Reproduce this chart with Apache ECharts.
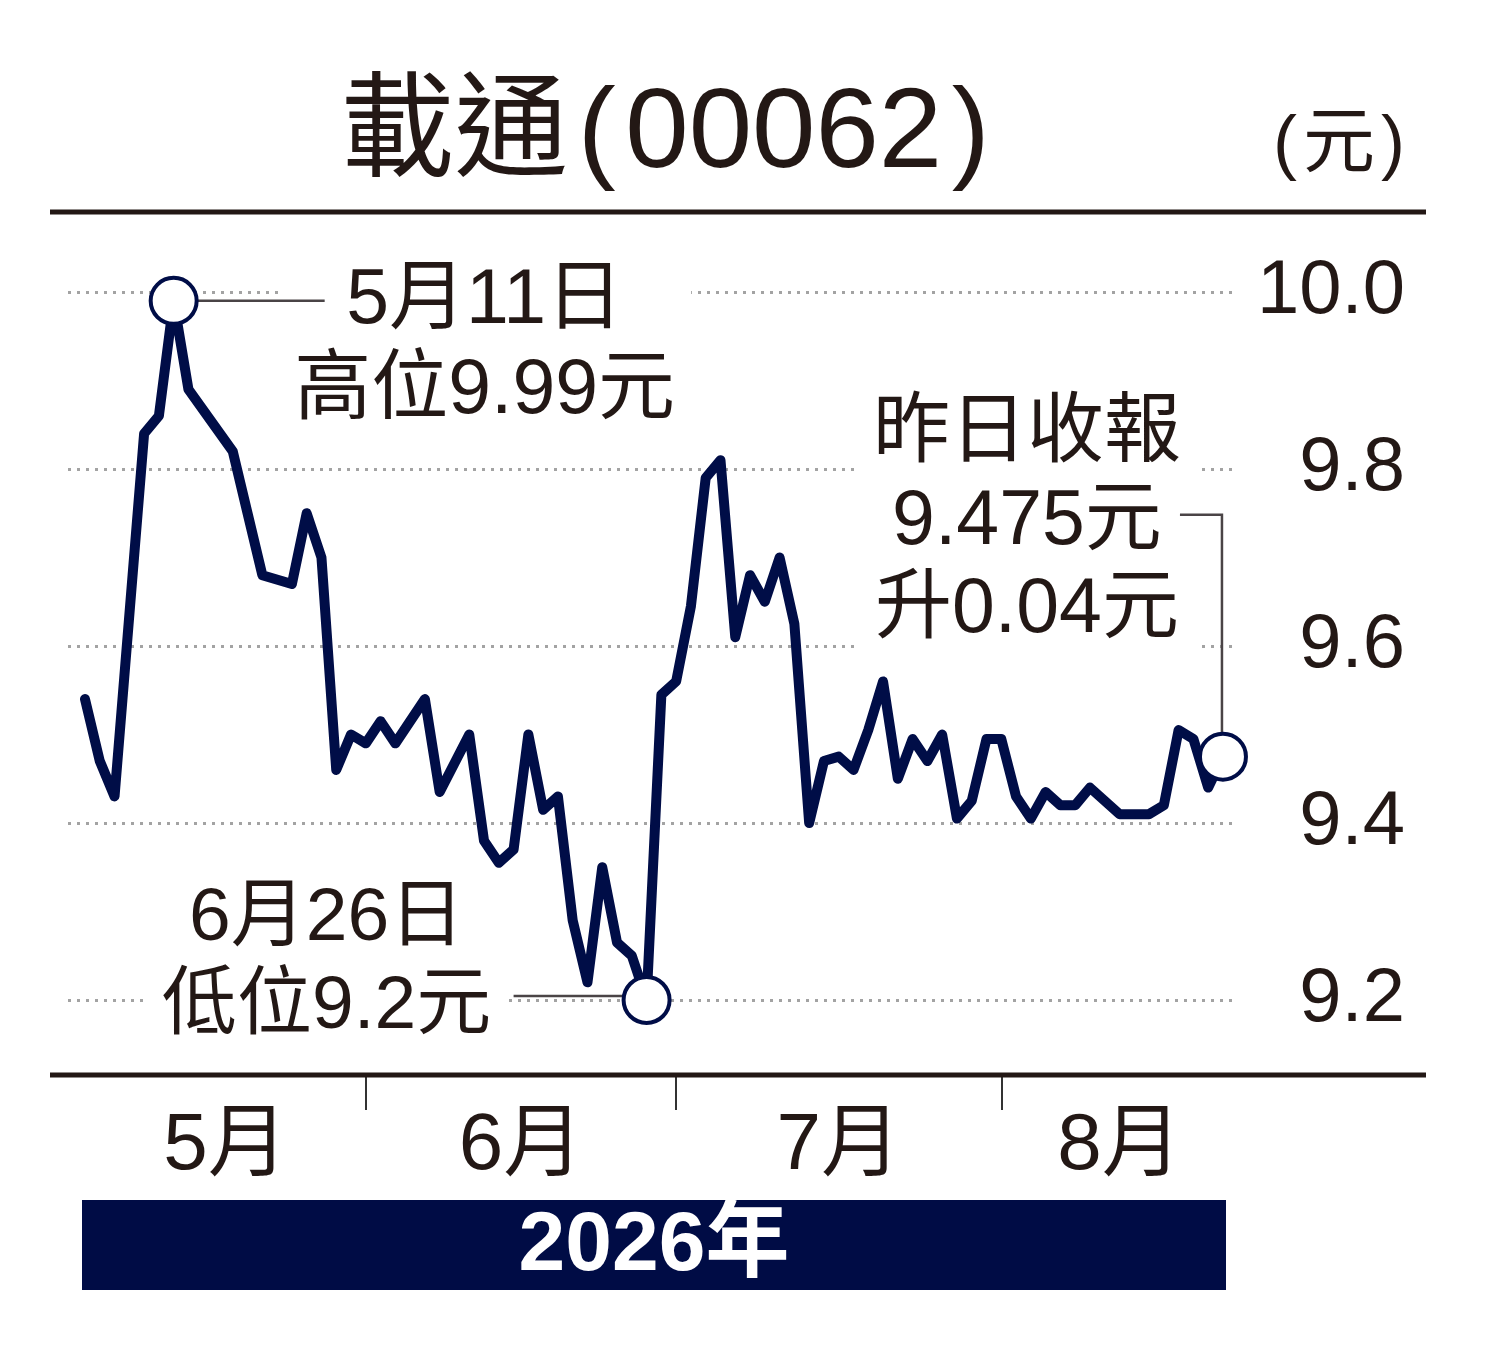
<!DOCTYPE html>
<html>
<head>
<meta charset="utf-8">
<title>載通(00062)</title>
<script src="https://cdn.jsdelivr.net/npm/echarts@6/dist/echarts.min.js"></script>
<style>
  html, body { margin: 0; padding: 0; background: #fff; }
  #chart { width: 1500px; height: 1368px; }
</style>
</head>
<body>
<div id="chart"></div>
<script>
// 交易日序號(由5月首個交易日起計)及收市價
const tradeDay = [0, 1, 2, 4, 5, 6, 7, 10, 11, 12, 14, 15, 16, 17, 18, 19, 20, 21, 23, 24,
    26, 27, 28, 29, 30, 31, 32, 33, 34, 35, 36, 37, 38, 39, 40, 41, 42, 43, 44, 45,
    46, 47, 48, 49, 50, 51, 52, 53, 54, 55, 56, 57, 58, 59, 60, 61, 62, 63, 64, 65,
    66, 67, 68, 70, 72, 73, 74, 75, 76, 77];
const closePrice = [9.54, 9.47, 9.43, 9.84, 9.86, 9.99, 9.89, 9.82, 9.75, 9.68, 9.67, 9.75, 9.70, 9.46, 9.50, 9.49, 9.515, 9.49, 9.54, 9.435,
    9.50, 9.38, 9.355, 9.37, 9.50, 9.415, 9.43, 9.29, 9.22, 9.35, 9.265, 9.25, 9.20, 9.545, 9.56, 9.645, 9.79, 9.81, 9.61, 9.68,
    9.65, 9.70, 9.625, 9.40, 9.47, 9.475, 9.46, 9.505, 9.56, 9.45, 9.495, 9.47, 9.50, 9.405, 9.425, 9.495, 9.495, 9.43, 9.405, 9.435,
    9.42, 9.42, 9.44, 9.41, 9.41, 9.42, 9.505, 9.495, 9.44, 9.475];

// 月份及每月首個交易日
const monthNames = ['5月', '6月', '7月', '8月'];
const monthStart = [0, 19, 40, 62];
const monthEnd = 78;

const yTicks = [9.2, 9.4, 9.6, 9.8, 10.0];

// 標註文字
const peakText = '5月11日\n高位9.99元';
const lowText = '6月26日\n低位9.2元';
const lastText = '昨日收報\n9.475元\n升0.04元';

const navy = '#000d47';
const ink = '#231815';
const fontFam = '"Liberation Sans", "Noto Sans CJK TC", sans-serif';
const hair = '\u200A';

// 月份標籤放在每月中間
const monthMid = monthStart.map((s, i) => (s + (i + 1 < monthStart.length ? monthStart[i + 1] : monthEnd)) / 2);

const lineData = tradeDay.map((d, i) => [d, closePrice[i]]);

var chart = echarts.init(document.getElementById('chart'));

var option = {
    animation: false,
    backgroundColor: '#fff',
    grid: {
        left: 68,
        right: 263,
        top: 292,
        bottom: 368
    },
    xAxis: {
        type: 'value',
        min: -1.15,
        max: 77.95,
        offset: 75,
        axisLine: { show: false },
        splitLine: { show: false },
        axisTick: {
            show: true,
            customValues: monthStart.slice(1),
            length: 35,
            lineStyle: { color: '#333', width: 2 }
        },
        axisLabel: {
            customValues: monthMid,
            margin: 32,
            fontSize: 80,
            fontFamily: fontFam,
            color: ink,
            formatter: function (v) {
                var i = monthMid.indexOf(v);
                return i >= 0 ? monthNames[i] : '';
            }
        }
    },
    yAxis: {
        type: 'value',
        position: 'right',
        min: yTicks[0],
        max: yTicks[yTicks.length - 1],
        interval: 0.2,
        axisLine: { show: false },
        axisTick: { show: false },
        axisLabel: {
            align: 'right',
            margin: 168,
            fontSize: 76,
            fontFamily: fontFam,
            color: ink,
            formatter: function (v) { return v.toFixed(1); }
        },
        splitLine: {
            show: true,
            lineStyle: { color: '#a3a3a3', width: 3, type: [3, 6] }
        }
    },
    series: [
        {
            name: '載通',
            type: 'line',
            data: lineData,
            symbol: 'none',
            z: 5,
            lineStyle: { color: navy, width: 10, join: 'round', cap: 'round' }
        }
    ]
};

chart.setOption(option);

// 找出高位、低位及最後收市
var hi = closePrice.indexOf(Math.max.apply(null, closePrice));
var lo = closePrice.indexOf(Math.min.apply(null, closePrice));
var last = closePrice.length - 1;

var pHi = chart.convertToPixel({ gridIndex: 0 }, lineData[hi]);
var pLo = chart.convertToPixel({ gridIndex: 0 }, lineData[lo]);
var pLast = chart.convertToPixel({ gridIndex: 0 }, lineData[last]);

function ring(p) {
    return {
        type: 'circle', z: 120,
        shape: { cx: p[0], cy: p[1], r: 23 },
        style: { fill: '#fff', stroke: navy, lineWidth: 4 }
    };
}

function note(x, y, text, size, lh) {
    return {
        type: 'text', z: 100,
        style: {
            x: x, y: y, text: text,
            textAlign: 'center', textVerticalAlign: 'top',
            font: size + 'px ' + fontFam,
            fill: ink,
            lineHeight: lh,
            backgroundColor: '#fff',
            padding: [0, 16]
        }
    };
}

function leader(points) {
    return {
        type: 'polyline', z: 110,
        shape: { points: points },
        style: { stroke: '#4a4446', lineWidth: 2.5, fill: null }
    };
}

chart.setOption({
    graphic: [
        // 頂部標題
        {
            type: 'text', z: 100,
            style: {
                x: 665, y: 136, text: '載通' + hair + '(' + hair + '00062' + hair + ')',
                textAlign: 'center', textVerticalAlign: 'middle',
                font: '114px ' + fontFam, fill: ink
            }
        },
        {
            type: 'text', z: 100,
            style: {
                x: 1405, y: 146, text: '(' + hair + '元' + hair + ')',
                textAlign: 'right', textVerticalAlign: 'middle',
                font: '72px ' + fontFam, fill: ink
            }
        },
        {
            type: 'line', z: 100,
            shape: { x1: 50, y1: 212, x2: 1426, y2: 212 },
            style: { stroke: '#231815', lineWidth: 5 }
        },
        {
            type: 'line', z: 100,
            shape: { x1: 50, y1: 1075, x2: 1426, y2: 1075 },
            style: { stroke: '#231815', lineWidth: 5 }
        },
        // 年份橫條
        {
            type: 'rect', z: 100,
            shape: { x: 82, y: 1200, width: 1144, height: 90 },
            style: { fill: '#000c45' }
        },
        {
            type: 'text', z: 101,
            style: {
                x: 654, y: 1247, text: '2026年',
                textAlign: 'center', textVerticalAlign: 'middle',
                font: 'bold 84px ' + fontFam, fill: '#fff'
            }
        },
        // 標註
        note(pHi[0] + 311, pHi[1] - 44, peakText, 77, 90),
        leader([[pHi[0] + 23, pHi[1]], [pHi[0] + 151, pHi[1]]]),
        note(pLo[0] - 320, pLo[1] - 125, lowText, 75, 88),
        leader([[pLo[0] - 23, pLo[1] - 4], [pLo[0] - 133, pLo[1] - 4]]),
        note(pLast[0] - 196, pLast[1] - 366, lastText, 77, 88),
        leader([[pLast[0] - 1, pLast[1] - 23], [pLast[0] - 1, pLast[1] - 242], [pLast[0] - 43, pLast[1] - 242]]),
        ring(pHi),
        ring(pLo),
        ring(pLast)
    ]
});
</script>
</body>
</html>
